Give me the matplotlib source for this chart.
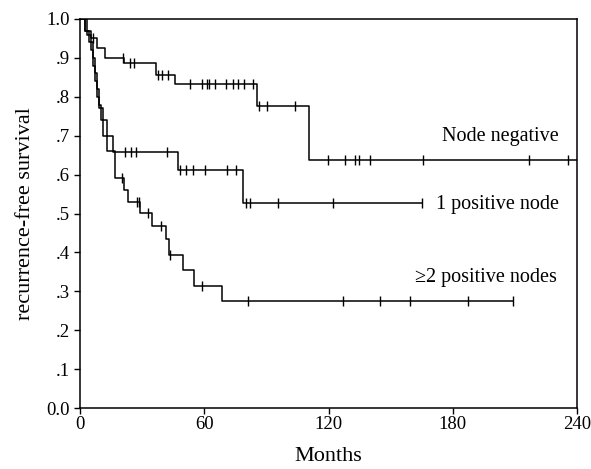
import numpy as np
import matplotlib.pyplot as plt

# Kaplan-Meier curves (months, recurrence-free survival)
neg_t = [0, 2, 5, 8, 12, 21, 36.5, 45.6, 85.3, 110.4, 240]
neg_s = [1.0, 0.97, 0.95, 0.925, 0.90, 0.886, 0.856, 0.832, 0.776, 0.637, 0.637]
neg_cens = [6, 20.4, 23.9, 25.8, 37.5, 39.4, 42.3, 53, 58.7, 61.1, 62.1, 65, 70.3,
            73.7, 76.1, 79, 83.3, 86.5, 90, 103.6, 119.6, 127.8, 133, 134.5,
            139.9, 165.5, 216.7, 235.5]

one_t = [0, 3, 5, 6, 7, 8, 9, 11, 13, 16, 47.2, 78.5, 165]
one_s = [1.0, 0.96, 0.92, 0.88, 0.84, 0.80, 0.77, 0.74, 0.70, 0.659, 0.612, 0.528, 0.528]
one_cens = [21.5, 24.4, 26.8, 41.8, 48.1, 51, 54.3, 60.1, 70.8, 75.2, 80, 82,
            95.4, 122, 165]

two_t = [0, 2, 4, 6, 7, 8, 9, 10, 11, 13, 16.5, 21, 23, 28.7, 34.4, 41.3,
         42.9, 49.7, 55, 68.7, 209]
two_s = [1.0, 0.97, 0.94, 0.90, 0.86, 0.82, 0.78, 0.74, 0.70, 0.66, 0.59,
         0.56, 0.53, 0.502, 0.468, 0.434, 0.393, 0.355, 0.314, 0.275, 0.275]
two_cens = [19.9, 27.3, 28.3, 32.8, 39.2, 43.5, 59, 81, 126.8, 144.7, 159.2,
            187.2, 209]

labels = ['Node negative', '1 positive node', '\u22652 positive nodes']
label_pos = [(175, 0.697), (172, 0.524), (162, 0.335)]

plt.rcParams['font.family'] = ['Liberation Serif', 'DejaVu Serif']

fig = plt.figure(figsize=(5.91, 4.69), dpi=100)
ax = fig.add_axes([0.136, 0.130, 0.840, 0.8295])


def surv_at(t, times, surv):
    idx = np.searchsorted(times, t, side='right') - 1
    return np.array(surv)[idx]


for t, s, c in [(neg_t, neg_s, neg_cens), (one_t, one_s, one_cens), (two_t, two_s, two_cens)]:
    ax.step(t, s, where='post', color='black', lw=1.1)
    ax.plot(c, surv_at(c, t, s), linestyle='none', marker='|', color='black',
            markersize=7, markeredgewidth=1.0)

for lab, (x, y) in zip(labels, label_pos):
    ax.text(x, y, lab, fontsize=14.5, ha='left', va='center')

ax.set_xlim(0, 240)
ax.set_ylim(0, 1.0)
ax.set_xticks([0, 60, 120, 180, 240])
yt = np.arange(0, 1.01, 0.1)
ax.set_yticks(yt)
ax.set_yticklabels(['0.0', '.1', '.2', '.3', '.4', '.5', '.6', '.7', '.8', '.9', '1.0'])
ax.tick_params(direction='out', length=4, width=1, labelsize=13.5)
ax.tick_params(axis='x', pad=1.5)
ax.set_xlabel('Months', fontsize=16, labelpad=10)
ax.set_ylabel('recurrence-free survival', fontsize=16, labelpad=8)
for sp in ax.spines.values():
    sp.set_linewidth(1.1)

fig.savefig('out.png', dpi=100)
